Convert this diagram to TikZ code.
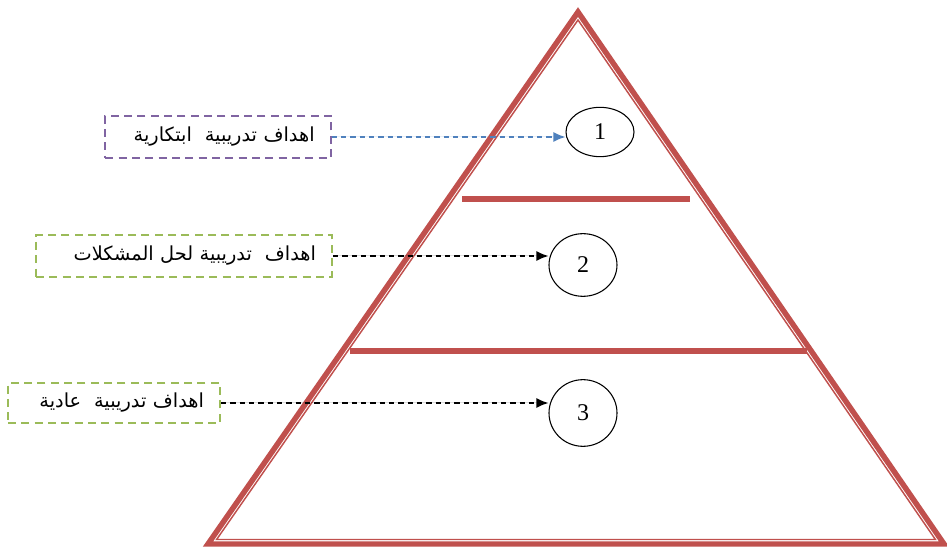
\documentclass[tikz,border=0pt]{standalone}
\usepackage{fontspec}
\usetikzlibrary{shapes.geometric,arrows.meta}
\TeXXeTstate=1
\newfontfamily\arabicfont[Script=Arabic]{DejaVu Sans}
\setmainfont{Liberation Serif}
\definecolor{pyrred}{HTML}{C0504D}
\definecolor{arrblue}{HTML}{4F81BD}
\definecolor{boxpurple}{HTML}{8064A2}
\definecolor{boxgreen}{HTML}{9BBB59}
\begin{document}
\begin{tikzpicture}[x=0.75pt,y=-0.75pt,
  outerline/.style={draw=pyrred,line width=4.1pt,line join=miter},
  innerline/.style={draw=pyrred,line width=1.1pt,line join=miter},
  levelline/.style={draw=pyrred,line width=4.4pt},
  goalbox/.style={draw,dashed,line width=1.5pt,dash pattern=on 6pt off 4pt,
    inner xsep=12pt,inner ysep=0pt,align=right,
    font=\arabicfont\fontsize{14.5}{16}\selectfont},
  numcirc/.style={draw,ellipse,line width=0.8pt,inner sep=0pt,
    font=\fontsize{18}{20}\selectfont},
  goalarrow/.style={dashed,dash pattern=on 4pt off 3pt,line width=1.1pt,-{Latex[length=9pt,width=7.5pt]}}
]
\useasboundingbox (0,0) rectangle (947,548);
% pyramid
\coordinate (A) at (578,12);
\coordinate (B) at (208,544);
\coordinate (C) at (944,544);
\coordinate (Ai) at (578,20);
\coordinate (Bi) at (216.6,539.5);
\coordinate (Ci) at (935.4,539.5);
\draw[outerline] (A) -- (B) -- (C) -- cycle;
\draw[innerline] (Ai) -- (Bi) -- (Ci) -- cycle;
\coordinate (L1a) at (462,199);
\coordinate (L1b) at (690,199);
\coordinate (L2a) at (350,351);
\coordinate (L2b) at (807,351);
\draw[levelline] (L1a) -- (L1b);
\draw[levelline] (L2a) -- (L2b);
% circles
\node[numcirc,minimum width=51pt,minimum height=37pt] (c1) at (600,132) {1};
\node[numcirc,minimum width=51pt,minimum height=47pt] (c2) at (583,265) {2};
\node[numcirc,minimum width=51pt,minimum height=50pt] (c3) at (583,413) {3};
% boxes
\node[goalbox,draw=boxpurple,minimum height=32pt,text width=145pt] (b1) at (218,137)
  {\beginR اهداف تدريبية~ ابتكارية\endR};
\node[goalbox,draw=boxgreen,minimum height=31pt,text width=198pt] (b2) at (184,256)
  {\beginR اهداف~ تدريبية لحل المشكلات\endR};
\node[goalbox,draw=boxgreen,minimum height=30pt,text width=135pt] (b3) at (114,403)
  {\beginR اهداف تدريبية~ عادية\endR};
% arrows
\draw[goalarrow,draw=arrblue,fill=arrblue] (b1.east) -- (b1.east -| c1.west);
\draw[goalarrow,fill=black] (b2.east) -- (b2.east -| c2.west);
\draw[goalarrow,fill=black] (b3.east) -- (b3.east -| c3.west);
\end{tikzpicture}
\end{document}
